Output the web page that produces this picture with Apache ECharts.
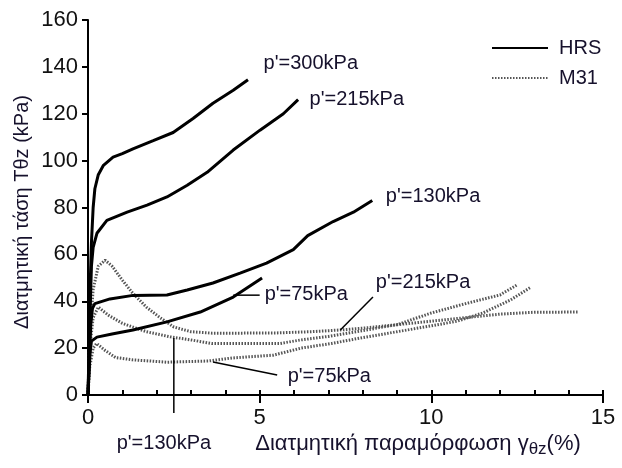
<!DOCTYPE html>
<html>
<head>
<meta charset="utf-8">
<script src="https://cdn.jsdelivr.net/npm/echarts@6/dist/echarts.min.js"></script>
<style>
  html, body { margin: 0; padding: 0; background: #fff; }
  #chart { width: 622px; height: 468px; }
</style>
</head>
<body>
<div id="chart"></div>
<script>
// HRS curves [strain %, stress kPa]
const hrs300 = [[0,0],[0.03,20],[0.06,45],[0.1,65],[0.15,80],[0.2,88],[0.3,94],[0.45,98],[0.73,101.5],[1.0,103],[1.31,105],[1.9,108.5],[2.48,112],[3.06,118],[3.64,124.5],[4.23,130],[4.66,134.5]];
const hrs215 = [[0,0],[0.03,15],[0.06,35],[0.1,55],[0.15,63],[0.26,69],[0.55,74.5],[1.14,78],[1.72,81],[2.3,84.5],[2.89,89.5],[3.47,95],[4.23,104.5],[5.01,113],[5.69,120],[6.12,126]];
const hrs130 = [[0,0],[0.04,15],[0.08,30],[0.13,37],[0.2,39],[0.64,41],[1.31,42.5],[2.3,42.7],[2.89,44.8],[3.64,47.8],[4.43,52],[5.2,56.3],[5.98,62],[6.4,68],[7.14,74],[7.73,78],[8.28,83]];
const hrs75 = [[0,0],[0.03,10],[0.06,18],[0.1,23],[0.26,24.7],[0.7,26],[1.31,27.7],[2.3,31.2],[3.27,35.4],[4.23,41.8],[5.07,49.9]];

// M31 curves
const m31_215 = [[0,0],[0.05,25],[0.15,45],[0.3,55],[0.5,57.5],[0.7,55],[1.0,49],[1.3,43.5],[1.7,37.5],[2.1,33],[2.5,29],[3.0,27],[3.6,26.4],[4.5,26.4],[5.5,26.5],[6.5,27],[7.3,27.7],[8,28.5],[9,30],[10,31.5],[11,33],[12,34.5],[13,35.3],[14.3,35.4]];
const m31_130 = [[0,0],[0.05,20],[0.15,33],[0.3,37.5],[0.6,34],[1.0,30.6],[1.7,27],[2.4,24.8],[3.0,23.5],[3.6,22],[5.6,22],[6.2,23.5],[7,25],[8,27.5],[9,30],[10,35],[11,39],[12,42.7],[12.5,47]];
const m31_75 = [[0,0],[0.05,12],[0.15,20],[0.25,22],[0.5,19],[0.8,16],[1.3,15],[2.3,14],[3.5,14.5],[4.2,15.8],[5.4,17],[6.2,20],[7.1,22],[8,24.5],[9,27],[10,29.5],[10.75,31.5],[11.5,35],[12.3,40.5],[12.9,46]];

// annotation labels [x, y, text]
const labels = [
  [5.1, 141.6, "p'=300kPa"],
  [6.44, 125.9, "p'=215kPa"],
  [8.66, 84.5, "p'=130kPa"],
  [5.13, 43.1, "p'=75kPa"],
  [8.37, 47.8, "p'=215kPa"],
  [5.8, 7.7, "p'=75kPa"],
  [0.82, -20.5, "p'=130kPa"]
];
// leader lines
const leaders = [
  [[4.23, 42.6], [5.0, 42.6]],
  [[3.64, 14.1], [5.51, 8.5]],
  [[7.35, 27.7], [8.3, 41.8]],
  [[2.5, 24.3], [2.5, -7.7]]
];

const FONT = 'Liberation Sans, Arial, sans-serif';
const TXT = '#16112c';

let chart = echarts.init(document.getElementById('chart'));

function hrsSeries(data) {
  return { name: 'HRS', type: 'line', data: data, symbol: 'none', showSymbol: false,
    lineStyle: { color: '#000', width: 3 }, itemStyle: { color: '#000' }, z: 3 };
}
function m31Series(data) {
  return { name: 'M31', type: 'line', data: data, symbol: 'none', showSymbol: false,
    lineStyle: { color: '#555', width: 3, type: [1.5, 1.5] }, itemStyle: { color: '#555' }, z: 2 };
}

let series = [
  hrsSeries(hrs300), hrsSeries(hrs215), hrsSeries(hrs130), hrsSeries(hrs75),
  m31Series(m31_215), m31Series(m31_130), m31Series(m31_75)
];
leaders.forEach(function (l) {
  series.push({ type: 'line', data: l, symbol: 'none', clip: false, silent: true,
    lineStyle: { color: '#000', width: 1.5 }, z: 4 });
});
series.push({
  type: 'scatter', data: labels, symbolSize: 1, clip: false, silent: true,
  itemStyle: { color: 'rgba(0,0,0,0)', opacity: 1 },
  label: { show: true, position: 'right', distance: 0, fontFamily: FONT, fontSize: 20, color: TXT,
    formatter: function (p) { return p.value[2]; } },
  z: 5
});

chart.setOption({
  animation: false,
  textStyle: { fontFamily: FONT },
  grid: { left: 88, right: 19, top: 20, bottom: 73 },
  legend: {
    data: ['HRS', 'M31'], orient: 'vertical', left: 486, top: 33,
    itemWidth: 56, itemHeight: 14, itemGap: 10, selectedMode: false,
    itemStyle: { opacity: 0 },
    textStyle: { fontFamily: FONT, fontSize: 20, color: TXT, padding: [0, 0, 0, 6] }
  },
  xAxis: [
    {
      type: 'value', min: 0, max: 15, interval: 5,
      axisLine: { lineStyle: { color: '#000', width: 2 } },
      axisTick: { length: 8, lineStyle: { color: '#000', width: 2 } },
      axisLabel: { fontFamily: FONT, fontSize: 22, color: '#111', margin: 12 },
      splitLine: { show: false }
    },
    {
      type: 'value', min: 0, max: 15, interval: 1, position: 'bottom',
      axisLine: { show: false },
      axisTick: { inside: true, length: 5, lineStyle: { color: '#000', width: 2 } },
      axisLabel: { show: false },
      splitLine: { show: false }
    }
  ],
  yAxis: {
    type: 'value', min: 0, max: 160, interval: 20,
    axisLine: { show: true, lineStyle: { color: '#000', width: 2 } },
    axisTick: { show: true, length: 6, lineStyle: { color: '#000', width: 2 } },
    axisLabel: { fontFamily: FONT, fontSize: 22, color: '#111', margin: 10 },
    splitLine: { show: false }
  },
  graphic: [
    {
      type: 'text', x: 418, y: 444,
      style: {
        text: 'Διατμητική παραμόρφωση γ{s|θz}(%)',
        font: '22px ' + FONT, fill: TXT, textAlign: 'center', textVerticalAlign: 'middle',
        rich: { s: { fontSize: 17, fontFamily: FONT, fill: TXT, padding: [10, 0, 0, 0] } }
      }
    },
    {
      type: 'text', x: 22, y: 212, rotation: Math.PI / 2,
      style: {
        text: 'Διατμητική τάση Τθz (kPa)',
        font: '20px ' + FONT, fill: TXT, textAlign: 'center', textVerticalAlign: 'middle'
      }
    }
  ],
  series: series
});
</script>
</body>
</html>
